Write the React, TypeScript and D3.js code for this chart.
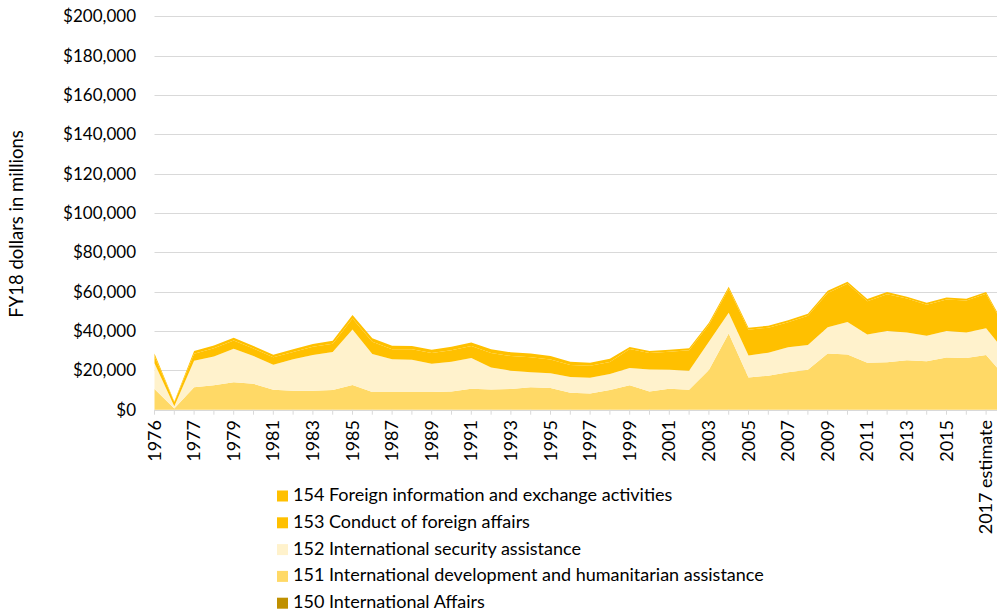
import { useEffect, useRef } from 'react'
import * as d3 from 'd3'

// fiscal years (TQ = 1976 transition quarter); last one runs past the right edge
const years = [
  '1976', 'TQ', '1977', '1978', '1979', '1980', '1981', '1982', '1983', '1984',
  '1985', '1986', '1987', '1988', '1989', '1990', '1991', '1992', '1993', '1994',
  '1995', '1996', '1997', '1998', '1999', '2000', '2001', '2002', '2003', '2004',
  '2005', '2006', '2007', '2008', '2009', '2010', '2011', '2012', '2013', '2014',
  '2015', '2016', '2017 estimate', '2018',
]

// FY18 dollars in millions
const dev151 = [
  10500, 600, 11400, 12400, 13900, 13200, 10200, 9700, 9700, 10000,
  12500, 9000, 9000, 9000, 9000, 9300, 10700, 10300, 10500, 11400,
  11000, 8600, 8300, 10000, 12400, 9200, 10700, 10200, 20200, 38800,
  16400, 17300, 19000, 20300, 28600, 28100, 23900, 24100, 25100, 24700,
  26600, 26300, 27800, 16200,
]
const sec152 = [
  13100, 1200, 13500, 14600, 17100, 14100, 12700, 15900, 18100, 19300,
  28300, 19300, 16600, 16400, 14400, 15100, 15600, 11200, 9300, 7600,
  7500, 8000, 8000, 8100, 8800, 11300, 9600, 9600, 14400, 10500,
  11200, 11700, 12700, 12600, 13300, 16500, 14400, 15900, 14200, 12900,
  13400, 12900, 13600, 12800,
]
const conduct153 = [
  3700, 2000, 3600, 4300, 4200, 3800, 3800, 3800, 4200, 4300,
  5600, 6200, 5200, 5300, 5400, 5800, 6100, 7300, 7500, 7700,
  7000, 6100, 6000, 6200, 9700, 8300, 9200, 10400, 8600, 12200,
  13100, 12700, 12800, 14900, 17500, 19400, 16900, 18700, 17200, 15800,
  16100, 16300, 17500, 11700,
]
const info154 = [
  1300, 400, 1300, 1400, 1400, 1300, 1300, 1300, 1400, 1500,
  1700, 1800, 1700, 1700, 1700, 1800, 1800, 1900, 1900, 1900,
  1800, 1700, 1600, 1600, 1000, 1000, 1000, 1000, 1000, 1000,
  1000, 1000, 1000, 1000, 1100, 1100, 1100, 1100, 1000, 1000,
  900, 900, 900, 900,
]

const yTicks = [0, 20000, 40000, 60000, 80000, 100000, 120000, 140000, 160000, 180000, 200000]

const legendItems = [
  { label: '154 Foreign information and exchange activities', color: '#FFC000' },
  { label: '153 Conduct of foreign affairs', color: '#FFC000' },
  { label: '152 International security assistance', color: '#FFF2CC' },
  { label: '151 International development and humanitarian assistance', color: '#FFD966' },
  { label: '150 International Affairs', color: '#BF9000' },
]

const W = 997
const H = 615
const FONT = 'Lato, "Open Sans", sans-serif'

export default function App() {
  const svgRef = useRef<SVGSVGElement>(null)

  useEffect(() => {
    if (!svgRef.current) return
    const svg = d3.select(svgRef.current)
    svg.selectAll('*').remove()

    const x0 = 154.5
    const step = 19.8
    const x = d3.scalePoint<string>()
      .domain(years)
      .range([x0, x0 + step * (years.length - 1)])

    const y = d3.scaleLinear().domain([0, 200000]).range([409.7, 16.4])

    const table = years.map((yr, i) => ({
      year: yr,
      s151: dev151[i],
      s152: sec152[i],
      s153: conduct153[i],
      s154: info154[i],
    }))
    const keys = ['s151', 's152', 's153', 's154']
    const colors: Record<string, string> = {
      s151: '#FFD966',
      s152: '#FFF2CC',
      s153: '#FFC000',
      s154: '#FFC000',
    }
    const series = d3.stack<any>().keys(keys)(table)

    // gridlines + y labels
    const grid = svg.append('g')
    grid.selectAll('line')
      .data(yTicks)
      .join('line')
      .attr('x1', x0)
      .attr('x2', W)
      .attr('y1', d => Math.round(y(d)) + 0.5)
      .attr('y2', d => Math.round(y(d)) + 0.5)
      .attr('stroke', '#D9D9D9')
      .attr('stroke-width', 1)

    grid.selectAll('text')
      .data(yTicks)
      .join('text')
      .attr('x', 136)
      .attr('y', d => y(d) + 1.5)
      .attr('text-anchor', 'end')
      .attr('dominant-baseline', 'middle')
      .attr('font-family', FONT)
      .attr('font-size', '17px')
      .attr('fill', '#000')
      .text(d => '$' + d3.format(',')(d))

    const area = d3.area<any>()
      .x(d => x(d.data.year) as number)
      .y0(d => y(d[0]))
      .y1(d => y(d[1]))

    svg.append('g')
      .selectAll('path')
      .data(series)
      .join('path')
      .attr('d', d => area(d as any) as string)
      .attr('fill', d => colors[d.key])

    // x axis baseline + ticks
    const axis = svg.append('g')
    axis.append('line')
      .attr('x1', x0)
      .attr('x2', W)
      .attr('y1', Math.round(y(0)) + 0.5)
      .attr('y2', Math.round(y(0)) + 0.5)
      .attr('stroke', '#D9D9D9')
    axis.selectAll('line.tick')
      .data(years)
      .join('line')
      .attr('class', 'tick')
      .attr('x1', d => x(d) as number)
      .attr('x2', d => x(d) as number)
      .attr('y1', y(0))
      .attr('y2', y(0) + 5)
      .attr('stroke', '#D9D9D9')

    axis.selectAll('text')
      .data(years.filter((_, i) => i % 2 === 0))
      .join('text')
      .attr('transform', d => `translate(${(x(d) as number) + 6},420) rotate(-90)`)
      .attr('text-anchor', 'end')
      .attr('font-family', FONT)
      .attr('font-size', '18px')
      .attr('fill', '#000')
      .text(d => d)

    // y axis title
    svg.append('text')
      .attr('transform', 'translate(23,224) rotate(-90)')
      .attr('text-anchor', 'middle')
      .attr('font-family', FONT)
      .attr('font-size', '18.5px')
      .attr('fill', '#000')
      .text('FY18 dollars in millions')

    // legend
    const legend = svg.append('g')
    const rows = legend.selectAll('g')
      .data(legendItems)
      .join('g')
      .attr('transform', (_, i) => `translate(277,${496.5 + i * 26.8})`)
    rows.append('rect')
      .attr('x', 0)
      .attr('y', -6)
      .attr('width', 11)
      .attr('height', 11)
      .attr('fill', d => d.color)
    rows.append('text')
      .attr('x', 16)
      .attr('y', 0)
      .attr('dominant-baseline', 'middle')
      .attr('font-family', FONT)
      .attr('font-size', '18px')
      .attr('fill', '#000')
      .text(d => d.label)
  }, [])

  return (
    <svg
      ref={svgRef}
      width={W}
      height={H}
      style={{ position: 'absolute', left: 0, top: 0, background: '#fff' }}
    />
  )
}
